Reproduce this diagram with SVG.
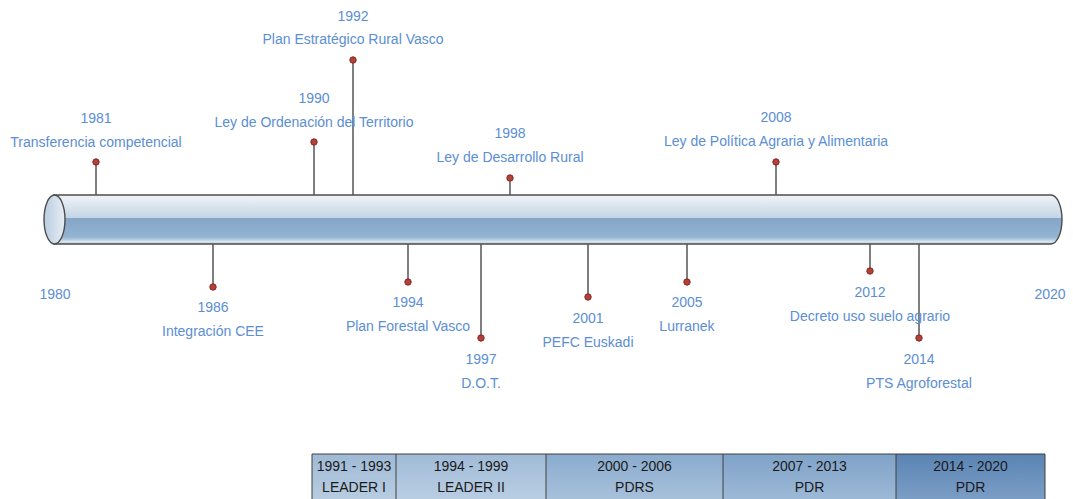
<svg xmlns="http://www.w3.org/2000/svg" width="1073" height="499" viewBox="0 0 1073 499">
<style>
.lbl{font-family:"Liberation Sans",Arial,sans-serif;font-size:14px;fill:#5b8ed4;text-anchor:middle}
.cell{font-family:"Liberation Sans",Arial,sans-serif;font-size:14px;fill:#1a1a1a;text-anchor:middle}
.stem{stroke:#555;stroke-width:1.5;fill:none}
.dot{fill:#b5403a;stroke:#7d2a25;stroke-width:1}
.grid{stroke:#404040;stroke-width:1;fill:none}
</style>
<defs>
<linearGradient id="tube" x1="0" y1="195" x2="0" y2="244" gradientUnits="userSpaceOnUse">
<stop offset="0" stop-color="#f0f4f8"/>
<stop offset="0.46" stop-color="#c5d5e5"/>
<stop offset="0.48" stop-color="#84a6c7"/>
<stop offset="0.85" stop-color="#93b3d2"/>
<stop offset="0.9" stop-color="#abc5dd"/>
<stop offset="0.95" stop-color="#dae5ef"/>
<stop offset="1" stop-color="#b4cadf"/>
</linearGradient>
<linearGradient id="cap" x1="0" y1="0" x2="1" y2="0">
<stop offset="0" stop-color="#b9cde0"/>
<stop offset="1" stop-color="#e8eef5"/>
</linearGradient>
<linearGradient id="c1" x1="0" y1="0" x2="0" y2="1"><stop offset="0" stop-color="#9fbad6"/><stop offset="1" stop-color="#b8cde1"/></linearGradient>
<linearGradient id="c2" x1="0" y1="0" x2="0" y2="1"><stop offset="0" stop-color="#a0bbd7"/><stop offset="1" stop-color="#b9cee3"/></linearGradient>
<linearGradient id="c3" x1="0" y1="0" x2="0" y2="1"><stop offset="0" stop-color="#8aabce"/><stop offset="1" stop-color="#a8c1db"/></linearGradient>
<linearGradient id="c4" x1="0" y1="0" x2="0" y2="1"><stop offset="0" stop-color="#7fa2c8"/><stop offset="1" stop-color="#9db9d7"/></linearGradient>
<linearGradient id="c5" x1="0" y1="0" x2="0" y2="1"><stop offset="0" stop-color="#5a84b4"/><stop offset="1" stop-color="#7c9ec6"/></linearGradient>
</defs>

<g id="timeline-bar">
<path d="M54,195 L1051,195 A11,24.5 0 0 1 1051,244 L54,244 Z" fill="url(#tube)" stroke="#4d4d4d" stroke-width="1.4"/>
<ellipse cx="54.5" cy="219.5" rx="10.5" ry="24.5" fill="url(#cap)" stroke="#4d4d4d" stroke-width="1.4"/>
</g>

<g id="connectors">
<line class="stem" x1="96" y1="162" x2="96" y2="195"/>
<line class="stem" x1="314" y1="142" x2="314" y2="195"/>
<line class="stem" x1="353" y1="60" x2="353" y2="195"/>
<line class="stem" x1="510" y1="178" x2="510" y2="195"/>
<line class="stem" x1="776" y1="162" x2="776" y2="195"/>
<line class="stem" x1="213" y1="244" x2="213" y2="287"/>
<line class="stem" x1="408" y1="244" x2="408" y2="282"/>
<line class="stem" x1="481" y1="244" x2="481" y2="338"/>
<line class="stem" x1="588" y1="244" x2="588" y2="297"/>
<line class="stem" x1="687" y1="244" x2="687" y2="282"/>
<line class="stem" x1="870" y1="244" x2="870" y2="271"/>
<line class="stem" x1="919" y1="244" x2="919" y2="338"/>
</g>

<g id="axis-labels">
<text class="lbl" x="55" y="299">1980</text>
<text class="lbl" x="1050" y="299">2020</text>
</g>

<g id="e1981"><circle class="dot" cx="96" cy="162" r="3.2"/><text class="lbl" x="96" y="123">1981</text><text class="lbl" x="96" y="147">Transferencia competencial</text></g>
<g id="e1990"><circle class="dot" cx="314" cy="142" r="3.2"/><text class="lbl" x="314" y="103">1990</text><text class="lbl" x="314" y="127">Ley de Ordenación del Territorio</text></g>
<g id="e1992"><circle class="dot" cx="353" cy="60" r="3.2"/><text class="lbl" x="353" y="21">1992</text><text class="lbl" x="353" y="44">Plan Estratégico Rural Vasco</text></g>
<g id="e1998"><circle class="dot" cx="510" cy="178" r="3.2"/><text class="lbl" x="510" y="138">1998</text><text class="lbl" x="510" y="162">Ley de Desarrollo Rural</text></g>
<g id="e2008"><circle class="dot" cx="776" cy="162" r="3.2"/><text class="lbl" x="776" y="122">2008</text><text class="lbl" x="776" y="146">Ley de Política Agraria y Alimentaria</text></g>

<g id="e1986"><circle class="dot" cx="213" cy="287" r="3.2"/><text class="lbl" x="213" y="312">1986</text><text class="lbl" x="213" y="336">Integración CEE</text></g>
<g id="e1994"><circle class="dot" cx="408" cy="282" r="3.2"/><text class="lbl" x="408" y="307">1994</text><text class="lbl" x="408" y="331">Plan Forestal Vasco</text></g>
<g id="e1997"><circle class="dot" cx="481" cy="338" r="3.2"/><text class="lbl" x="481" y="364">1997</text><text class="lbl" x="481" y="388">D.O.T.</text></g>
<g id="e2001"><circle class="dot" cx="588" cy="297" r="3.2"/><text class="lbl" x="588" y="323">2001</text><text class="lbl" x="588" y="347">PEFC Euskadi</text></g>
<g id="e2005"><circle class="dot" cx="687" cy="282" r="3.2"/><text class="lbl" x="687" y="307">2005</text><text class="lbl" x="687" y="331">Lurranek</text></g>
<g id="e2012"><circle class="dot" cx="870" cy="271" r="3.2"/><text class="lbl" x="870" y="297">2012</text><text class="lbl" x="870" y="321">Decreto uso suelo agrario</text></g>
<g id="e2014"><circle class="dot" cx="919" cy="338" r="3.2"/><text class="lbl" x="919" y="364">2014</text><text class="lbl" x="919" y="388">PTS Agroforestal</text></g>

<g id="programs-table">
<rect x="312" y="454" width="84" height="46" fill="url(#c1)"/>
<rect x="396" y="454" width="150" height="46" fill="url(#c2)"/>
<rect x="546" y="454" width="177" height="46" fill="url(#c3)"/>
<rect x="723" y="454" width="173" height="46" fill="url(#c4)"/>
<rect x="896" y="454" width="149" height="46" fill="url(#c5)"/>
<path class="grid" d="M312,500 V454 H1045 V500 M396,454 V500 M546,454 V500 M723,454 V500 M896,454 V500"/>
<text class="cell" x="354" y="471">1991 - 1993</text><text class="cell" x="354" y="492">LEADER I</text>
<text class="cell" x="471" y="471">1994 - 1999</text><text class="cell" x="471" y="492">LEADER II</text>
<text class="cell" x="634.5" y="471">2000 - 2006</text><text class="cell" x="634.5" y="492">PDRS</text>
<text class="cell" x="809.5" y="471">2007 - 2013</text><text class="cell" x="809.5" y="492">PDR</text>
<text class="cell" x="970.5" y="471">2014 - 2020</text><text class="cell" x="970.5" y="492">PDR</text>
</g>
</svg>
